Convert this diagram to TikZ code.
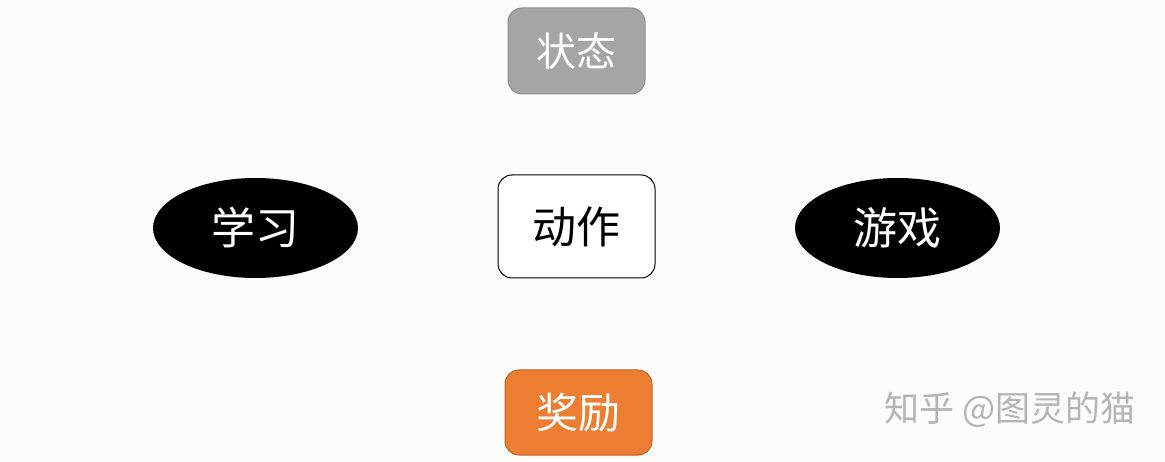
\documentclass[tikz,border=0pt]{standalone}
\usepackage{fontspec}
\newfontfamily\cjk{Noto Sans CJK SC}
\usetikzlibrary{shapes.geometric}

\definecolor{bgpaper}{HTML}{FCFCFA}
\definecolor{stategray}{HTML}{A5A5A3}
\definecolor{stateedge}{HTML}{8C8C8A}
\definecolor{rewardorange}{HTML}{ED7D31}
\definecolor{rewardedge}{HTML}{B9652B}
\definecolor{marktext}{HTML}{B4B4B4}

\tikzset{every picture/.style={line width=1pt}}
\tikzset{
  boxnode/.style={rounded corners=14pt, inner sep=0pt, font=\cjk\fontsize{42}{46}\selectfont},
  ovalnode/.style={ellipse, fill=black, text=white, inner sep=0pt, minimum width=205pt, minimum height=100pt, font=\cjk\fontsize{44}{48}\selectfont}
}

\begin{document}
\begin{tikzpicture}[x=1pt,y=1pt,yscale=-1]
  % canvas
  \fill[bgpaper] (0,0) rectangle (1165,462);
  \useasboundingbox (0,0) rectangle (1165,462);

  % Shape: state box
  \node (state) [boxnode, draw=stateedge, fill=stategray, text=white, minimum width=137pt, minimum height=86pt, font=\cjk\fontsize{40}{44}\selectfont] at (576.5,51) {状态};
  % Shape: action box
  \node (action) [boxnode, draw=black, fill=white, minimum width=157pt, minimum height=103pt, font=\cjk\fontsize{44}{48}\selectfont] at (576.5,226.5) {动作};
  % Shape: reward box
  \node (reward) [boxnode, draw=rewardedge, fill=rewardorange, text=white, minimum width=147pt, minimum height=85pt] at (578.5,412.5) {奖励};

  % Shape: ellipses
  \node (learn) [ovalnode] at (255.5,228) {学习};
  \node (game) [ovalnode] at (897.5,228) {游戏};

  % Text Node
  \node (mark) [text=marktext, font=\cjk\fontsize{35}{38}\selectfont] at (1010,410) {知乎 @图灵的猫};
\end{tikzpicture}
\end{document}
